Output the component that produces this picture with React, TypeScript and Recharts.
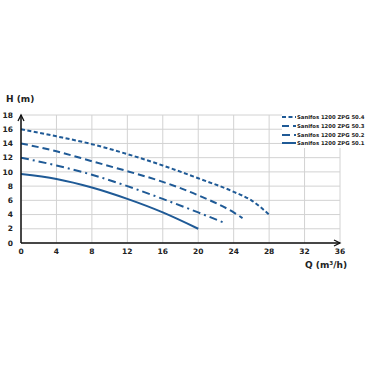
import React from "react";
import {
  LineChart,
  Line,
  XAxis,
  YAxis,
  CartesianGrid,
  ReferenceDot,
} from "recharts";

const BLUE = "#1f5a96";
const FONT = "'DejaVu Sans', sans-serif";

const xTicks = [0, 4, 8, 12, 16, 20, 24, 28, 32, 36];
const yTicks = [0, 2, 4, 6, 8, 10, 12, 14, 16, 18];

// Q (m3/h) against H (m)
const q504 = [0, 4, 8, 12, 16, 20, 24, 26, 28];
const h504 = [16, 15, 13.9, 12.5, 10.9, 9.1, 7.2, 6.0, 4];
const q503 = [0, 4, 8, 12, 16, 20, 24, 25];
const h503 = [14, 12.9, 11.5, 10.1, 8.6, 6.7, 4.3, 3.5];
const q502 = [0, 4, 8, 12, 16, 20, 23];
const h502 = [12, 10.9, 9.6, 8.0, 6.2, 4.3, 2.8];
const q501 = [0, 4, 8, 12, 16, 20];
const h501 = [9.7, 9.0, 7.8, 6.2, 4.3, 2.0];

const toRows = (q: number[], h: number[]) => q.map((x, i) => ({ q: x, h: h[i] }));

const series = [
  { name: "Sanifos 1200 ZPG 50.4", data: toRows(q504, h504), dash: "4 2.5" },
  { name: "Sanifos 1200 ZPG 50.3", data: toRows(q503, h503), dash: "7 4" },
  { name: "Sanifos 1200 ZPG 50.2", data: toRows(q502, h502), dash: "8 4 2 4" },
  { name: "Sanifos 1200 ZPG 50.1", data: toRows(q501, h501), dash: undefined },
];

const LegendBox = () => (
  <div
    style={{
      position: "absolute",
      left: 282,
      top: 113,
      fontFamily: FONT,
      fontWeight: 700,
      fontSize: 5.3,
      color: "#222",
      background: "#fff",
      whiteSpace: "nowrap",
    }}
  >
    {series.map((s) => (
      <div key={s.name} style={{ display: "flex", alignItems: "center", height: 8.7 }}>
        <svg width={14} height={6} style={{ marginRight: 1 }}>
          <line x1={0} y1={3} x2={14} y2={3} stroke={BLUE} strokeWidth={2} strokeDasharray={s.dash} />
        </svg>
        <span>{s.name}</span>
      </div>
    ))}
  </div>
);

const ArrowRight = (props: any) => (
  <path d={`M${props.cx - 6},${props.cy - 3} L${props.cx},${props.cy} L${props.cx - 6},${props.cy + 3}`} fill="none" stroke="#111" strokeWidth={1.3} />
);
const ArrowUp = (props: any) => (
  <path d={`M${props.cx - 3},${props.cy + 6} L${props.cx},${props.cy} L${props.cx + 3},${props.cy + 6}`} fill="none" stroke="#111" strokeWidth={1.3} />
);

const tickStyle = { fontFamily: FONT, fontWeight: 700, fontSize: 7.5, fill: "#222" };

export default function App() {
  return (
    <div style={{ position: "absolute", left: 0, top: 0, width: 370, height: 370, background: "#fff" }}>
      <LineChart width={370} height={370} margin={{ top: 115, right: 30, bottom: 112, left: 0 }}>
        <CartesianGrid stroke="#d2d2d2" strokeWidth={1} horizontalValues={yTicks} verticalValues={xTicks} />
        <XAxis
          dataKey="q"
          type="number"
          domain={[0, 36]}
          ticks={xTicks}
          interval={0}
          allowDuplicatedCategory={false}
          height={15}
          tickLine={false}
          axisLine={{ stroke: "#111", strokeWidth: 1.5 }}
          tick={tickStyle}
          tickMargin={0}
        />
        <YAxis
          dataKey="h"
          type="number"
          domain={[0, 18]}
          ticks={yTicks}
          interval={0}
          width={21}
          tickLine={false}
          axisLine={{ stroke: "#111", strokeWidth: 1.5 }}
          tick={tickStyle}
          tickMargin={2}
        />
        {series.map((s) => (
          <Line
            key={s.name}
            data={s.data}
            dataKey="h"
            name={s.name}
            type="monotone"
            stroke={BLUE}
            strokeWidth={2}
            strokeDasharray={s.dash}
            dot={false}
            isAnimationActive={false}
          />
        ))}
        <ReferenceDot x={36} y={0} ifOverflow="visible" shape={ArrowRight} />
        <ReferenceDot x={0} y={18} ifOverflow="visible" shape={ArrowUp} />
      </LineChart>
      <div style={{ position: "absolute", left: 6, top: 94, fontFamily: FONT, fontWeight: 700, fontSize: 9, color: "#222" }}>
        H (m)
      </div>
      <div style={{ position: "absolute", left: 305, top: 260, fontFamily: FONT, fontWeight: 700, fontSize: 9, color: "#222" }}>
        Q (m³/h)
      </div>
      <LegendBox />
    </div>
  );
}
